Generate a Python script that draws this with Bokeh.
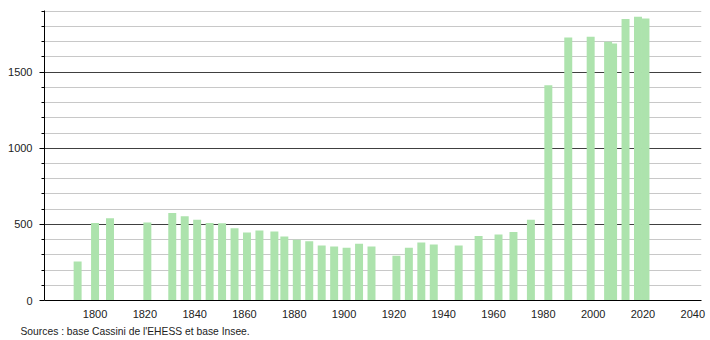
from bokeh.plotting import figure
from bokeh.models import ColumnDataSource, Range1d, FixedTicker, Title
from bokeh.embed import file_html
from bokeh.resources import INLINE

years = [1793, 1800, 1806, 1821, 1831, 1836, 1841, 1846, 1851, 1856,
         1861, 1866, 1872, 1876, 1881, 1886, 1891, 1896, 1901, 1906,
         1911, 1921, 1926, 1931, 1936, 1946, 1954, 1962, 1968, 1975,
         1982, 1990, 1999, 2006, 2008, 2013, 2018, 2021]
population = [257, 509, 540, 513, 574, 553, 531, 509, 508, 474,
              447, 460, 454, 421, 399, 390, 362, 355, 347, 373,
              355, 294, 347, 381, 368, 362, 423, 434, 450, 531,
              1414, 1728, 1733, 1699, 1688, 1849, 1864, 1853]
x_ticks = [1800, 1820, 1840, 1860, 1880, 1900, 1920, 1940, 1960, 1980, 2000, 2020, 2040]
y_major = [0, 500, 1000, 1500]
y_minor = [v for v in range(100, 2000, 100) if v not in y_major]
source_text = "Sources : base Cassini de l'EHESS et base Insee."

FONT = "Liberation Sans"

p = figure(width=710, height=340, output_backend="svg", toolbar_location=None,
           x_range=Range1d(1779.7, 2043.5), y_range=Range1d(0, 1905),
           min_border_left=44, min_border_right=9, min_border_top=10, min_border_bottom=0)
p.outline_line_color = None
p.background_fill_color = "white"

y_ticker = FixedTicker(ticks=y_major, minor_ticks=y_minor)

# grid lines
p.xgrid.visible = False
p.ygrid.ticker = y_ticker
p.ygrid.grid_line_color = "#404040"
p.ygrid.grid_line_width = 1
p.ygrid.minor_grid_line_color = "#c8c8c8"
p.ygrid.minor_grid_line_width = 1

src = ColumnDataSource(dict(x=years, top=population))
p.vbar(x="x", top="top", width=3.2, bottom=0, source=src,
       fill_color="#ade3ad", line_color=None)

# y axis
p.yaxis.ticker = y_ticker
p.yaxis.axis_line_color = "black"
p.yaxis.major_tick_line_color = "black"
p.yaxis.minor_tick_line_color = "black"
p.yaxis.major_tick_out = 5
p.yaxis.major_tick_in = 0
p.yaxis.minor_tick_out = 3
p.yaxis.minor_tick_in = 0
p.yaxis.major_label_text_font = FONT
p.yaxis.major_label_text_font_size = "11px"
p.yaxis.major_label_text_color = "#222222"
p.yaxis.major_label_standoff = 7

# x axis
p.xaxis.ticker = FixedTicker(ticks=x_ticks)
p.xaxis.axis_line_color = "black"
p.xaxis.major_tick_line_color = None
p.xaxis.minor_tick_line_color = None
p.xaxis.major_label_text_font = FONT
p.xaxis.major_label_text_font_size = "11px"
p.xaxis.major_label_text_color = "#222222"
p.xaxis.major_label_standoff = 3

src_title = Title(text=source_text, align="left", offset=-24,
                  text_font=FONT, text_font_size="10.3px", text_font_style="normal",
                  text_color="#222222", standoff=7)
p.add_layout(src_title, "below")

open("out.html", "w").write(file_html(p, INLINE))
